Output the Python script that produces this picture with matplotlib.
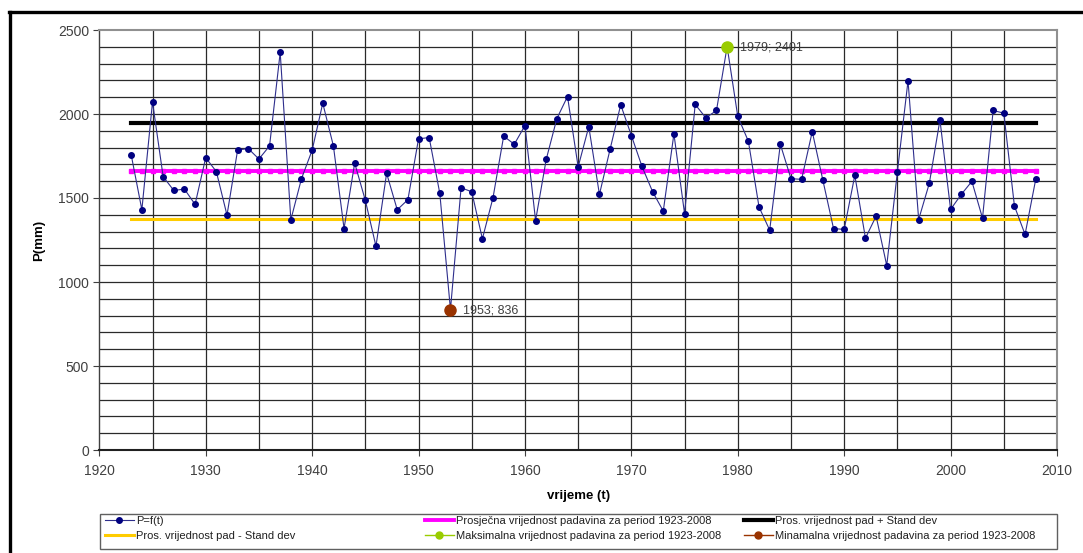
import matplotlib.pyplot as plt
from matplotlib.lines import Line2D
from matplotlib.patches import Rectangle

plt.rcParams['font.family'] = ['Liberation Sans', 'DejaVu Sans']

# podaci
godine = list(range(1923, 2009))
padavine = [1756, 1430, 2072, 1627, 1545, 1553, 1462, 1740, 1657, 1398,
            1786, 1794, 1732, 1810, 2367, 1370, 1615, 1784, 2064, 1810,
            1318, 1708, 1486, 1213, 1647, 1430, 1490, 1852, 1860, 1527,
            836, 1561, 1537, 1257, 1502, 1868, 1820, 1931, 1366, 1730,
            1973, 2104, 1685, 1925, 1521, 1790, 2055, 1872, 1688, 1537,
            1422, 1882, 1406, 2057, 1977, 2021, 2401, 1986, 1837, 1446,
            1309, 1820, 1615, 1611, 1895, 1605, 1318, 1313, 1635, 1261,
            1392, 1098, 1655, 2198, 1372, 1587, 1965, 1432, 1521, 1599,
            1380, 2021, 2005, 1452, 1283, 1611]
prosjek = 1662
prosjek_plus = 1949
prosjek_minus = 1375
max_god, max_val = 1979, 2401
min_god, min_val = 1953, 836

lbl_p = 'P=f(t)'
lbl_pros = 'Prosječna vrijednost padavina za period 1923-2008'
lbl_plus = 'Pros. vrijednost pad + Stand dev'
lbl_minus = 'Pros. vrijednost pad - Stand dev'
lbl_max = 'Maksimalna vrijednost padavina za period 1923-2008'
lbl_min = 'Minamalna vrijednost padavina za period 1923-2008'

fig = plt.figure(figsize=(10.83, 5.53), dpi=100)
ax = fig.add_axes([99.3/1083, 103/553, (1057-99.3)/1083, 420/553])

# mreza
for y in range(100, 2500, 100):
    ax.axhline(y, color='#2a2a2a', lw=0.9, zorder=1)
for x in range(1925, 2010, 5):
    ax.axvline(x, color='#2a2a2a', lw=0.9, zorder=1)

n = len(godine)
l_min, = ax.plot(godine, [prosjek_minus]*n, color='#ffcc00', lw=2.2, zorder=2)
l_pros, = ax.plot(godine, [prosjek]*n, color='#ff00ff', lw=2.8, marker='s',
                  markersize=2.5, zorder=2)
l_plus, = ax.plot(godine, [prosjek_plus]*n, color='black', lw=3, zorder=2)
l_p, = ax.plot(godine, padavine, color='#2e2e8c', lw=0.8, marker='o',
               markersize=4, markerfacecolor='#000080', markeredgecolor='#000080', zorder=3)
ax.plot([max_god], [max_val], color='#99cc00', marker='o', markersize=8, lw=1, zorder=4)
ax.plot([min_god], [min_val], color='#993300', marker='o', markersize=8, lw=1, zorder=4)

ax.annotate('%d; %d' % (max_god, max_val), (max_god, max_val), xytext=(9, -3),
            textcoords='offset points', fontsize=9, color='#404040')
ax.annotate('%d; %d' % (min_god, min_val), (min_god, min_val), xytext=(9, -3),
            textcoords='offset points', fontsize=9, color='#404040')

ax.set_xlim(1920, 2010)
ax.set_ylim(0, 2500)
ax.set_xticks(range(1920, 2011, 10))
ax.set_yticks(range(0, 2501, 500))
ax.tick_params(labelsize=10, labelcolor='#404040', color='#404040', length=4, direction='out')
ax.tick_params(axis='x', pad=6)
for s in ax.spines.values():
    s.set_color('#909090')
    s.set_linewidth(1.5)
ax.spines['bottom'].set_color('#202020')
ax.spines['left'].set_color('#404040')
ax.spines['left'].set_linewidth(1)

ax.set_xlabel('vrijeme (t)', fontsize=9.5, fontweight='bold', labelpad=9)
ax.set_ylabel('P(mm)', fontsize=9.5, fontweight='bold', labelpad=9)

# legenda
h_max = Line2D([], [], color='#99cc00', marker='o', markersize=5, lw=1)
h_min = Line2D([], [], color='#993300', marker='o', markersize=5, lw=1)
h_pros = Line2D([], [], color='#ff00ff', lw=2.8)
fig.patches.append(Rectangle((100/1083, 4/553), 957/1083, 35/553, transform=fig.transFigure,
                             fill=False, edgecolor='#606060', lw=1, figure=fig))
kol = [([l_p, l_min], [lbl_p, lbl_minus], 103),
       ([h_pros, h_max], [lbl_pros, lbl_max], 423),
       ([l_plus, h_min], [lbl_plus, lbl_min], 742)]
for h, t, xp in kol:
    lg = fig.legend(h, t, loc='upper left', bbox_to_anchor=(xp/1083, 1 - 514/553),
                    frameon=False, fontsize=8, handlelength=2.6, handletextpad=0.25,
                    labelspacing=0.5, borderpad=0.15, borderaxespad=0, numpoints=1)
    for tx in lg.get_texts():
        tx.set_color('#202020')

# okvir
fig.add_artist(Line2D([9.5/1083, 9.5/1083], [0, 1 - 11.5/553], color='black', lw=2.4))
fig.add_artist(Line2D([8.5/1083, 1], [1 - 11.5/553, 1 - 11.5/553], color='black', lw=2.4))

plt.savefig('out.png', dpi=100)
